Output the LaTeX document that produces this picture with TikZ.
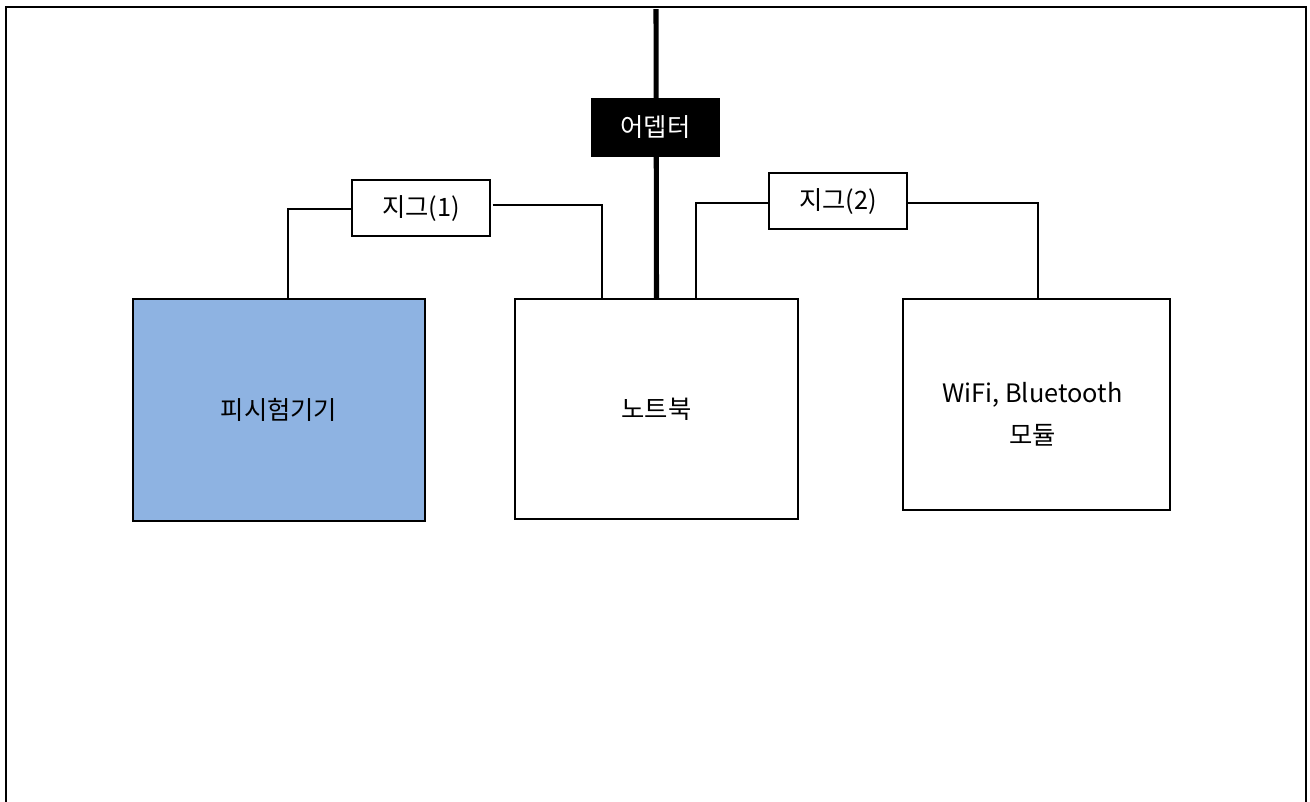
\documentclass[tikz,border=0pt]{standalone}
\usepackage{fontspec}
\setmainfont{Noto Sans CJK KR}
\definecolor{dutblue}{RGB}{142,179,226}
\begin{document}
\begin{tikzpicture}[x=0.75pt,y=-0.75pt,
  box/.style={draw=black,line width=1.1pt,inner sep=0pt,align=center,font=\fontsize{19}{31}\selectfont},
  lbl/.style={inner sep=0pt,align=center,font=\fontsize{19}{31.5}\selectfont},
  wire/.style={draw=black,line width=1.1pt},
  power/.style={draw=black,line width=3.8pt}]
\useasboundingbox (0,0) rectangle (1310,801);
\fill[white] (0,0) rectangle (1310,801);
\draw[line width=1.4pt] (6,805) -- (6,7) -- (1306,7) -- (1306,805);
% main boxes
\node[box,fill=dutblue,minimum width=219pt,minimum height=166.5pt] (dut) at (279,410) {피시험기기};
\node[box,fill=white,minimum width=212.25pt,minimum height=165pt] (nb) at (656.5,409) {노트북};
\node[box,fill=white,minimum width=200.25pt,minimum height=158.25pt] (wifi) at (1036.5,404.5) {};
\node[lbl] (wifitxt) at ([xshift=-3pt,yshift=-7pt]wifi.center) {WiFi, Bluetooth\\모듈};
% power line and adapter
\coordinate (ptop) at (656,9);
\draw[power] (ptop) -- (nb.north);
\node[box,fill=black,text=white,minimum width=95.25pt,minimum height=42.75pt] (adp) at (655.5,127.5) {어뎁터};
% jigs
\node[box,fill=white,minimum width=103.5pt,minimum height=42pt] (jig1) at (421,208) {지그(1)};
\node[box,fill=white,minimum width=103.5pt,minimum height=42pt] (jig2) at (838,201) {지그(2)};
% connectors
\draw[wire] ([yshift=-0.75pt]jig1.west) -| ([xshift=6.75pt]dut.north);
\draw[wire] ([xshift=1.5pt,yshift=2.25pt]jig1.east) -| ([xshift=-40.9pt]nb.north);
\draw[wire] ([yshift=-1.5pt]jig2.west) -| ([xshift=29.6pt]nb.north);
\draw[wire] ([yshift=-1.5pt]jig2.east) -| ([xshift=1.1pt]wifi.north);
\end{tikzpicture}
\end{document}
